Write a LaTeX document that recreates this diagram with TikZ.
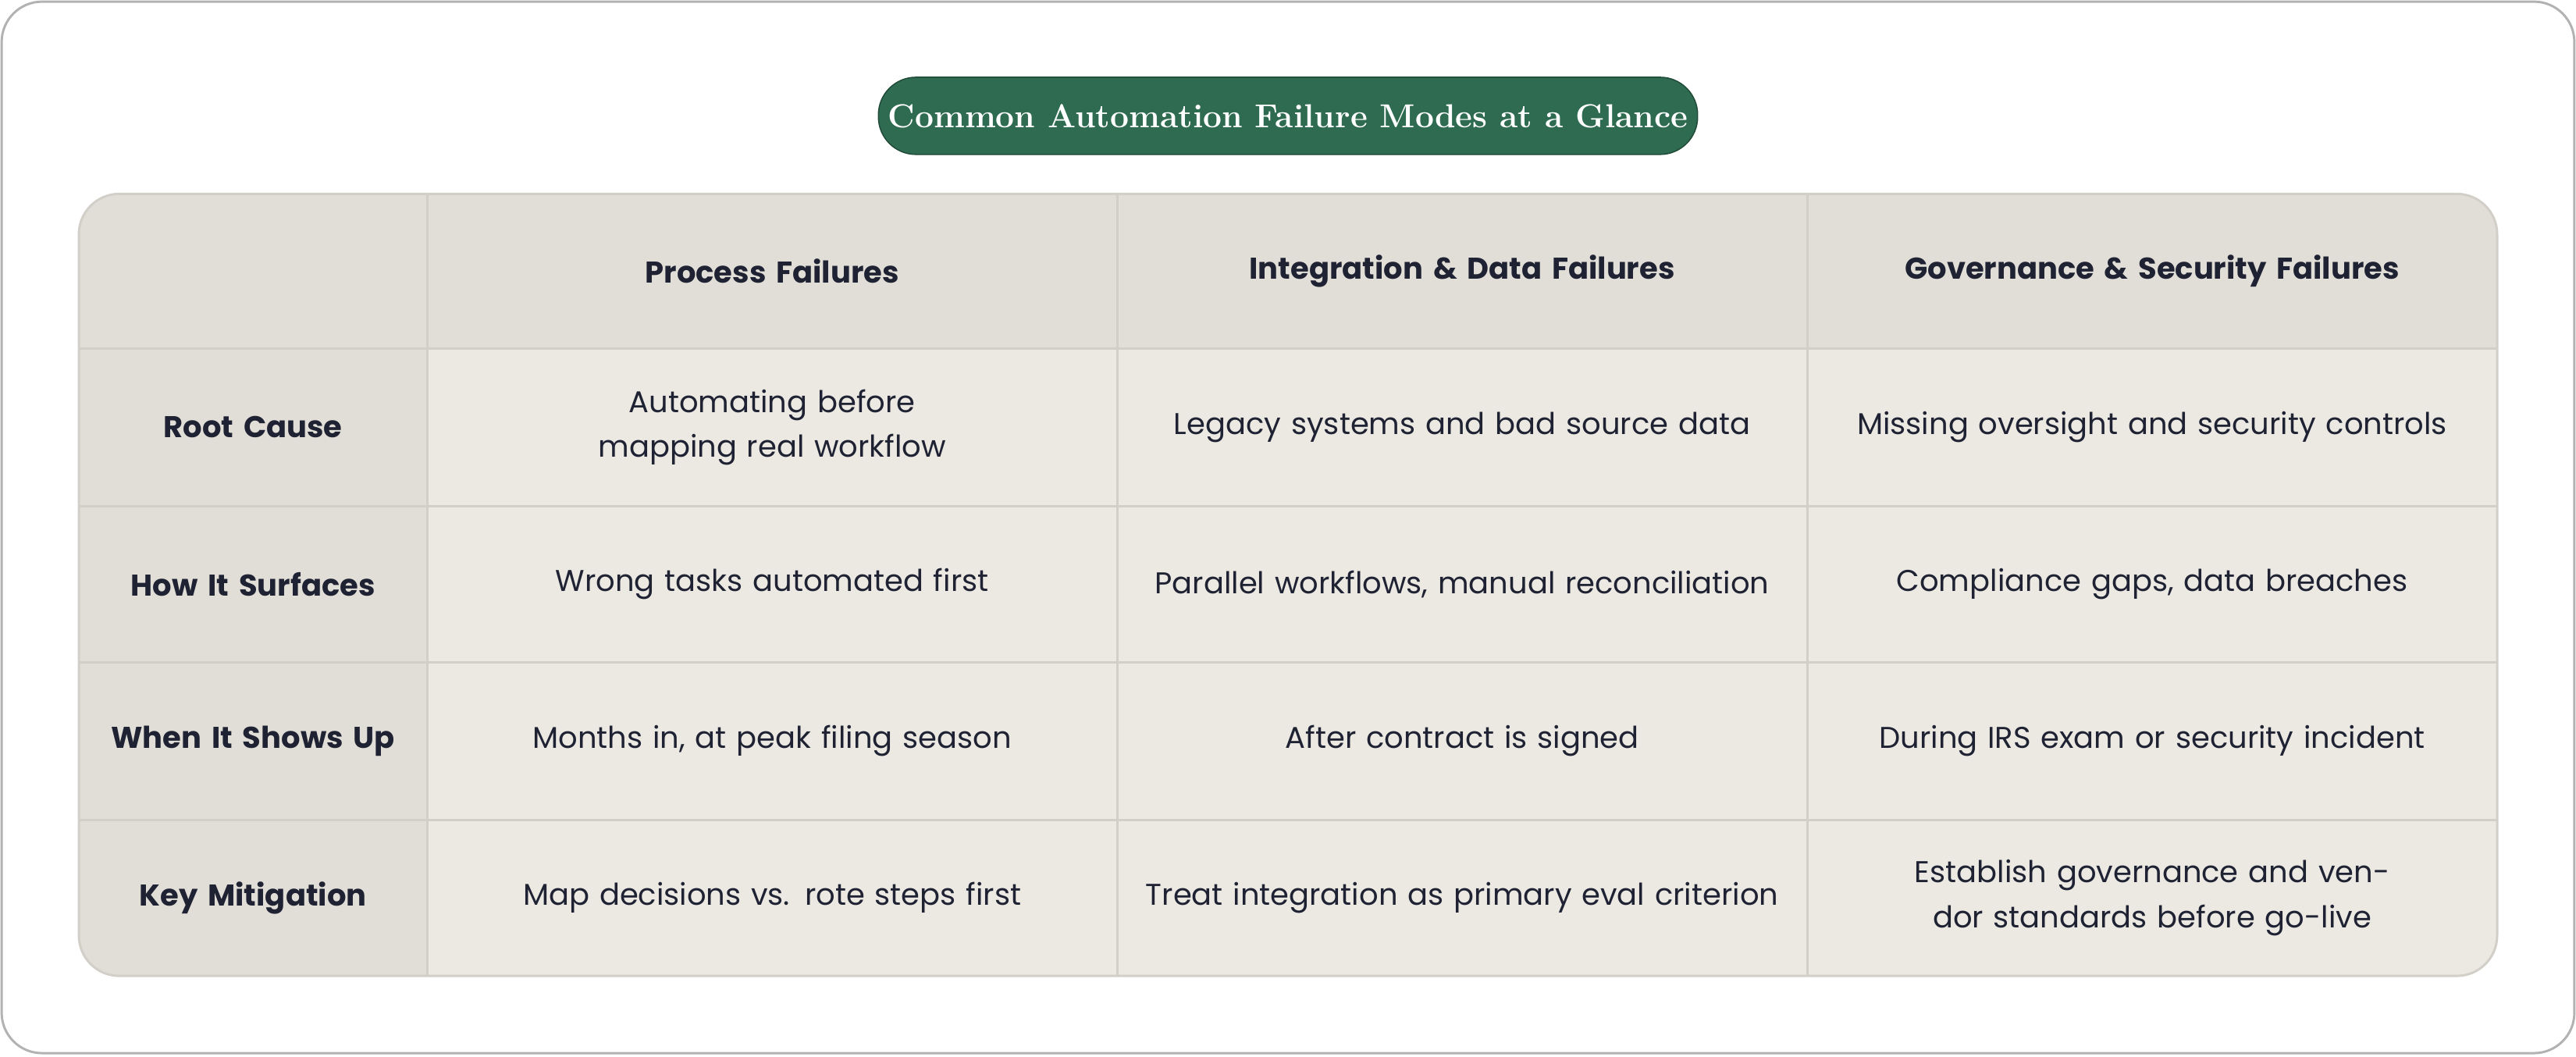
\documentclass[tikz,border=0pt]{standalone}
\usepackage{fontspec}
\setsansfont{Poppins}
\usepackage{xcolor}
\definecolor{titlegreen}{HTML}{2E6B50}
\definecolor{headfill}{HTML}{E1DED7}
\definecolor{cellfill}{HTML}{ECE9E3}
\definecolor{gridline}{HTML}{D2CFC9}
\definecolor{inktext}{HTML}{1E2233}
\tikzset{
  cell/.style={align=center, text width=8cm, font=\sffamily\fontsize{10.4}{15.5}\selectfont, text=inktext},
  head/.style={cell, font=\sffamily\bfseries\fontsize{10.4}{15.5}\selectfont},
  rowhead/.style={head, text width=4cm}
}
\begin{document}
\begin{tikzpicture}[x=0.02cm, y=-0.02cm]
	\useasboundingbox (0,0) rectangle (1568,643);
	\draw[color=gray!60, line width=0.8pt, rounded corners=14pt] (1,1) rectangle (1567,641);
	% title
	\node[fill=titlegreen, draw=titlegreen!70!black, rounded corners=13pt, minimum width=483*0.02cm, minimum height=47*0.02cm, text=white, font=\bfseries\fontsize{11.5}{14}\selectfont] (title) at (784,70.5) {Common Automation Failure Modes at a Glance};
	% table background
	\fill[cellfill, rounded corners=14pt] (48,118) rectangle (1520,594);
	\begin{scope}
	\clip[rounded corners=14pt] (48,118) rectangle (1520,594);
	\fill[headfill] (48,118) rectangle (1520,212);
	\fill[headfill] (48,118) rectangle (260,594);
	\draw[color=gridline, line width=0.8pt] (260,118) -- (260,594);
	\draw[color=gridline, line width=0.8pt] (680,118) -- (680,594);
	\draw[color=gridline, line width=0.8pt] (1100,118) -- (1100,594);
	\draw[color=gridline, line width=0.8pt] (48,212) -- (1520,212);
	\draw[color=gridline, line width=0.8pt] (48,308) -- (1520,308);
	\draw[color=gridline, line width=0.8pt] (48,403) -- (1520,403);
	\draw[color=gridline, line width=0.8pt] (48,499) -- (1520,499);
	\end{scope}
	\draw[color=gridline, line width=0.8pt, rounded corners=14pt] (48,118) rectangle (1520,594);
	% header row
	\node[head] (hproc) at (470,165) {Process Failures};
	\node[head] (hinteg) at (890,165) {Integration \& Data Failures};
	\node[head] (hgov) at (1310,165) {Governance \& Security Failures};
	% row heads
	\node[rowhead] (rcause) at (154,260) {Root Cause};
	\node[rowhead] (rsurf) at (154,355.5) {How It Surfaces};
	\node[rowhead] (rwhen) at (154,451) {When It Shows Up};
	\node[rowhead] (rmitig) at (154,546.5) {Key Mitigation};
	% cells
	\node[cell, text width=6.4cm] (cproc) at (470,260) {Automating before mapping real workflow};
	\node[cell] (cinteg) at (890,260) {Legacy systems and bad source data};
	\node[cell] (cgov) at (1310,260) {Missing oversight and security controls};
	\node[cell] (sproc) at (470,355.5) {Wrong tasks automated first};
	\node[cell] (sinteg) at (890,355.5) {Parallel workflows, manual reconciliation};
	\node[cell] (sgov) at (1310,355.5) {Compliance gaps, data breaches};
	\node[cell] (wproc) at (470,451) {Months in, at peak filing season};
	\node[cell] (winteg) at (890,451) {After contract is signed};
	\node[cell] (wgov) at (1310,451) {During IRS exam or security incident};
	\node[cell] (mproc) at (470,546.5) {Map decisions vs. rote steps first};
	\node[cell] (minteg) at (890,546.5) {Treat integration as primary eval criterion};
	\node[cell, text width=6.6cm] (mgov) at (1310,546.5) {Establish governance and vendor standards before go-live};
\end{tikzpicture}
\end{document}
